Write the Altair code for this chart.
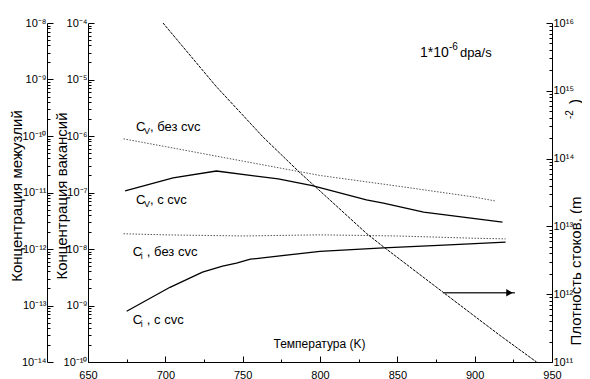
import altair as alt
import pandas as pd

# ---------------- data ----------------
# vacancy concentration, without sinks (dotted)
T_cv_no = [673, 700, 750, 800, 850, 900, 913]
cv_no = [8.9e-7, 6.5e-7, 3.6e-7, 2.0e-7, 1.3e-7, 8.3e-8, 7.1e-8]
# vacancy concentration, with sinks (solid)
T_cv_s = [674, 705, 733, 773, 795, 830, 841, 867, 918]
cv_s = [1.07e-7, 1.82e-7, 2.4e-7, 1.74e-7, 1.32e-7, 7.4e-8, 6.5e-8, 4.5e-8, 3.0e-8]
# interstitial concentration, without sinks (dotted)
T_ci_no = [673, 700, 750, 800, 850, 900, 920]
ci_no = [1.86e-12, 1.78e-12, 1.70e-12, 1.78e-12, 1.70e-12, 1.55e-12, 1.51e-12]
# interstitial concentration, with sinks (solid)
T_ci_s = [675, 703, 724, 737, 746, 755, 800, 841, 880, 920]
ci_s = [7.9e-14, 2.1e-13, 3.9e-13, 5.0e-13, 5.6e-13, 6.6e-13, 9.1e-13, 1.05e-12, 1.17e-12, 1.32e-12]
# sink density (dashed, right axis)
T_rho = [698.5, 733, 750, 763, 787, 806, 830, 841, 880, 916, 940]
rho = [1e16, 1.15e15, 4.4e14, 2.1e14, 6.2e13, 2.5e13, 7.9e12, 5.0e12, 1.05e12, 2.5e11, 1.0e11]
# arrow pointing to the right axis
arrow_T = [879.5, 926]
arrow_head_T = 922.5
arrow_rho = 1.05e12

x_ticks = list(range(650, 951, 25))

W, H = 464, 339
NARROW = "Liberation Sans Narrow, Liberation Sans, Arial, sans-serif"
REG = "Liberation Sans, Arial, sans-serif"

# ---------------- axis helpers ----------------
sup_map = {'-': '\u207b', '0': '\u2070', '1': '\u00b9', '2': '\u00b2', '3': '\u00b3',
           '4': '\u2074', '5': '\u2075', '6': '\u2076', '7': '\u2077', '8': '\u2078', '9': '\u2079'}
expo = "toString(round(log(datum.value)/LN10))"
for k, v in sup_map.items():
    expo = f"replace({expo}, regexp('{k}', 'g'), '{v}')"
major = "abs(log(datum.value)/LN10 - round(log(datum.value)/LN10)) < 0.001"
label_expr = f"({major}) ? '10' + {expo} : ''"
tick_expr = f"({major}) ? -6 : -3"


def log_ticks(lo, hi):
    vals = []
    for d in range(lo, hi):
        for k in range(1, 10):
            vals.append(float(f"{k}e{d}"))
    vals.append(float(f"1e{hi}"))
    return vals


def yaxis(orient, offset, lo, hi, **kw):
    return alt.Axis(orient=orient, offset=offset, values=log_ticks(lo, hi),
                    labelExpr=label_expr, tickSize={"expr": tick_expr},
                    labelPadding=7, grid=False, domainColor='black', tickColor='black',
                    labelColor='black', labelFont=REG, labelFontSize=11,
                    labelOverlap=False, labelFlush=False, labelBaseline='middle', **kw)


xaxis = alt.Axis(values=x_ticks, labelExpr="datum.value % 50 == 0 ? datum.label : ''",
                 tickSize={"expr": "datum.value % 50 == 0 ? -6 : -3"}, labelPadding=13,
                 grid=False, domainColor='black', tickColor='black', labelColor='black',
                 labelFont=NARROW, labelFontSize=11, labelOverlap=False, labelFlush=False,
                 format='d', title='Температура  (K)', titleFont=NARROW, titleFontSize=12,
                 titleFontWeight='normal', titleColor='black', titleY=-19,
                 titleBaseline='middle', titleX=W / 2 - 1)
x_enc = alt.X('T:Q', scale=alt.Scale(domain=[650, 950], nice=False, zero=False), axis=xaxis)

axis_i = yaxis('left', 41, -14, -8, title='Концентрация межузлий', titleAngle=270,
               titleX=-31, titleY=H / 2 + 3, titleAlign='center', titleBaseline='middle',
               titleFont=REG, titleFontSize=15, titleFontWeight='normal', titleColor='black')
axis_v = yaxis('left', 0, -10, -4, title='Концентрация вакансий', titleAngle=270,
               titleX=-27, titleY=H / 2 + 3, titleAlign='center', titleBaseline='middle',
               titleFont=REG, titleFontSize=15, titleFontWeight='normal', titleColor='black')
axis_s = yaxis('right', 0, 11, 16, title='Плотность стоков, (m', titleAngle=270,
               titleX=23, titleY=322, titleAlign='left', titleBaseline='middle',
               titleFont=REG, titleFontSize=15, titleFontWeight='normal', titleColor='black')

sc_i = alt.Scale(type='log', domain=[1e-14, 1e-8], nice=False)
sc_v = alt.Scale(type='log', domain=[1e-10, 1e-4], nice=False)
sc_s = alt.Scale(type='log', domain=[1e11, 1e16], nice=False)

DOT = dict(color='#555555', strokeDash=[1.5, 1.5], strokeWidth=1)
SOLID = dict(color='black', strokeWidth=1.3)


def line(T, vals, scale, axis, style):
    df = pd.DataFrame({'T': T, 'v': vals})
    return alt.Chart(df).mark_line(**style).encode(
        x=x_enc, y=alt.Y('v:Q', scale=scale, axis=axis))


def sub_label(T, v, sub, rest, scale, axis, sub_dx):
    df = pd.DataFrame({'T': [T], 'v': [v], 'c': ['C'], 's': [sub], 'r': [rest]})
    base = alt.Chart(df).encode(x=x_enc, y=alt.Y('v:Q', scale=scale, axis=axis))
    c = base.mark_text(align='left', baseline='middle', font=REG, fontSize=13, color='black').encode(text='c:N')
    s = base.mark_text(align='left', baseline='middle', font=REG, fontSize=9, dx=sub_dx, dy=4, color='black').encode(text='s:N')
    r = base.mark_text(align='left', baseline='middle', font=REG, fontSize=13, dx=14, color='black').encode(text='r:N')
    return [c, s, r]


# interstitial group
grp_i = alt.layer(
    line(T_ci_no, ci_no, sc_i, axis_i, DOT),
    line(T_ci_s, ci_s, sc_i, axis_i, SOLID),
    *sub_label(679, 8.9e-13, 'i', ', без cvc', sc_i, axis_i, 8),
    *sub_label(679, 5.5e-14, 'i', ', с cvc', sc_i, axis_i, 8),
)

# vacancy group
note = pd.DataFrame({'T': [864.6], 'v': [2.95e-5], 'a': ['1*10'], 'b': ['-6'], 'c': ['dpa/s']})
nb = alt.Chart(note).encode(x=x_enc, y=alt.Y('v:Q', scale=sc_v, axis=axis_v))
grp_v = alt.layer(
    line(T_cv_no, cv_no, sc_v, axis_v, DOT),
    line(T_cv_s, cv_s, sc_v, axis_v, SOLID),
    *sub_label(681, 1.45e-6, 'V', ', без cvc', sc_v, axis_v, 8),
    *sub_label(681, 7.4e-8, 'V', ', с cvc', sc_v, axis_v, 8),
    nb.mark_text(align='left', baseline='middle', font=REG, fontSize=14, color='black').encode(text='a:N'),
    nb.mark_text(align='left', baseline='middle', font=REG, fontSize=10, dx=29, dy=-6, color='black').encode(text='b:N'),
    nb.mark_text(align='left', baseline='middle', font=REG, fontSize=13, dx=40, color='black').encode(text='c:N'),
)

# sink density group
df_arrow = pd.DataFrame({'T': [arrow_T[0]], 'T2': [arrow_T[1]], 'v': [arrow_rho]})
df_head = pd.DataFrame({'T': [arrow_head_T], 'v': [arrow_rho]})
title_bits = pd.DataFrame({'t': ['-2', ')']})
grp_s = alt.layer(
    line(T_rho, rho, sc_s, axis_s, dict(color='black', strokeDash=[3, 1], strokeWidth=1)),
    alt.Chart(df_arrow).mark_rule(color='#333333', strokeWidth=1.5).encode(
        x=x_enc, x2='T2:Q', y=alt.Y('v:Q', scale=sc_s, axis=axis_s)),
    alt.Chart(df_head).mark_point(shape='triangle-right', filled=True, size=55, color='black', opacity=1).encode(
        x=x_enc, y=alt.Y('v:Q', scale=sc_s, axis=axis_s)),
    alt.Chart(title_bits).transform_filter("datum.t == '-2'").mark_text(
        angle=270, align='left', baseline='middle', font=REG, fontSize=10, color='black').encode(
        text='t:N', x=alt.value(W + 18), y=alt.value(96)),
    alt.Chart(title_bits).transform_filter("datum.t == ')'").mark_text(
        angle=270, align='left', baseline='middle', font=REG, fontSize=15, color='black').encode(
        text='t:N', x=alt.value(W + 23), y=alt.value(81)),
)

chart = alt.layer(grp_i, grp_v, grp_s).resolve_scale(y='independent').properties(
    width=W, height=H,
    padding={"left": 80, "top": 15, "right": 30, "bottom": 18},
    autosize=alt.AutoSizeParams(type='none'),
    background='white',
).configure_view(stroke=None)

chart.save("out.html", embed_options={"renderer": "svg", "actions": False})
